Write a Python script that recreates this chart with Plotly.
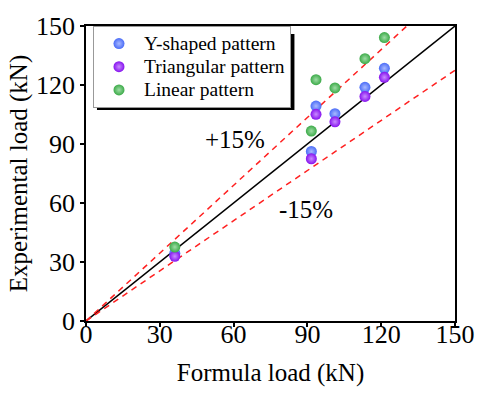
import plotly.graph_objects as go

# Data
formula_load = [36.1, 91.6, 93.5, 101.2, 113.4, 121.3]
y_shaped = [34.5, 86.2, 109.3, 105.4, 118.8, 128.5]
triangular = [32.9, 82.5, 105.1, 101.3, 114.2, 123.9]
linear = [37.6, 96.6, 122.7, 118.5, 133.4, 144.1]

series_names = ["Y-shaped pattern", "Triangular pattern", "Linear pattern"]
series_values = [y_shaped, triangular, linear]
series_colors = ["#4a6cf7", "#8612ee", "#3caa48"]
highlight = ["#a9b9ff", "#c98cff", "#9edda5"]

ref_x = [0, 150]
upper_factor = 1.15
lower_factor = 0.85
tick_vals = [0, 30, 60, 90, 120, 150]

FONT = "Liberation Serif, Times New Roman, serif"

fig = go.Figure()

# reference lines
fig.add_trace(go.Scatter(x=ref_x, y=[v for v in ref_x], mode="lines",
                         line=dict(color="black", width=1.5), showlegend=False, hoverinfo="skip"))
fig.add_trace(go.Scatter(x=[0, 150 / upper_factor], y=[0, 150], mode="lines",
                         line=dict(color="#ff2020", width=1.5, dash="6px,5px"), showlegend=False, hoverinfo="skip"))
fig.add_trace(go.Scatter(x=ref_x, y=[v * lower_factor for v in ref_x], mode="lines",
                         line=dict(color="#ff2020", width=1.5, dash="6px,5px"), showlegend=False, hoverinfo="skip"))

for name, vals, col, hl in zip(series_names, series_values, series_colors, highlight):
    fig.add_trace(go.Scatter(
        x=formula_load, y=vals, mode="markers",
        name="<span style='font-size:19.5px'>" + name + "</span>",
        marker=dict(size=11, color=col, line=dict(width=0),
                    gradient=dict(type="radial", color=hl)),
    ))

# legend shadow
L, R, T, B = 86, 456, 23, 321.5
W, H = 487, 402
pw, ph = R - L, B - T

def px2paper(x, y):
    return (x - L) / pw, (B - y) / ph

sx0, sy0 = px2paper(97, 108)
sx1, sy1 = px2paper(295, 31)
fig.add_shape(type="rect", xref="paper", yref="paper", x0=sx0, y0=sy0, x1=sx1, y1=sy1,
              fillcolor="black", line=dict(width=0), layer="above")

lx, ly = px2paper(93, 23)

fig.add_annotation(x=60.4, y=92.2, text="+15%", showarrow=False,
                   font=dict(family=FONT, size=25, color="black"))
fig.add_annotation(x=89.6, y=56.5, text="-15%", showarrow=False,
                   font=dict(family=FONT, size=25, color="black"))

axis_common = dict(range=[0, 150], tickvals=tick_vals, showgrid=False, zeroline=False,
                   showline=True, linecolor="black", linewidth=1.5, mirror=True,
                   ticks="outside", ticklen=4, tickwidth=1.5, tickcolor="black",
                   tickfont=dict(family=FONT, size=26, color="black"))

fig.update_layout(
    width=W, height=H,
    margin=dict(l=L, r=W - R, t=T, b=H - B),
    paper_bgcolor="white", plot_bgcolor="white",
    font=dict(family=FONT, color="black"),
    xaxis=dict(**axis_common, ticklabelstandoff=-15,
               title=dict(text="Formula load (kN)", font=dict(family=FONT, size=25), standoff=16)),
    yaxis=dict(**axis_common, ticklabelstandoff=0,
               title=dict(text="Experimental load (kN)", font=dict(family=FONT, size=25), standoff=1)),
    legend=dict(x=lx, y=ly, xanchor="left", yanchor="top", bgcolor="white",
                bordercolor="#999999", borderwidth=1, itemwidth=40,
                font=dict(family=FONT, size=15.5, color="black")),
    showlegend=True,
)

fig.write_html("out.html")
